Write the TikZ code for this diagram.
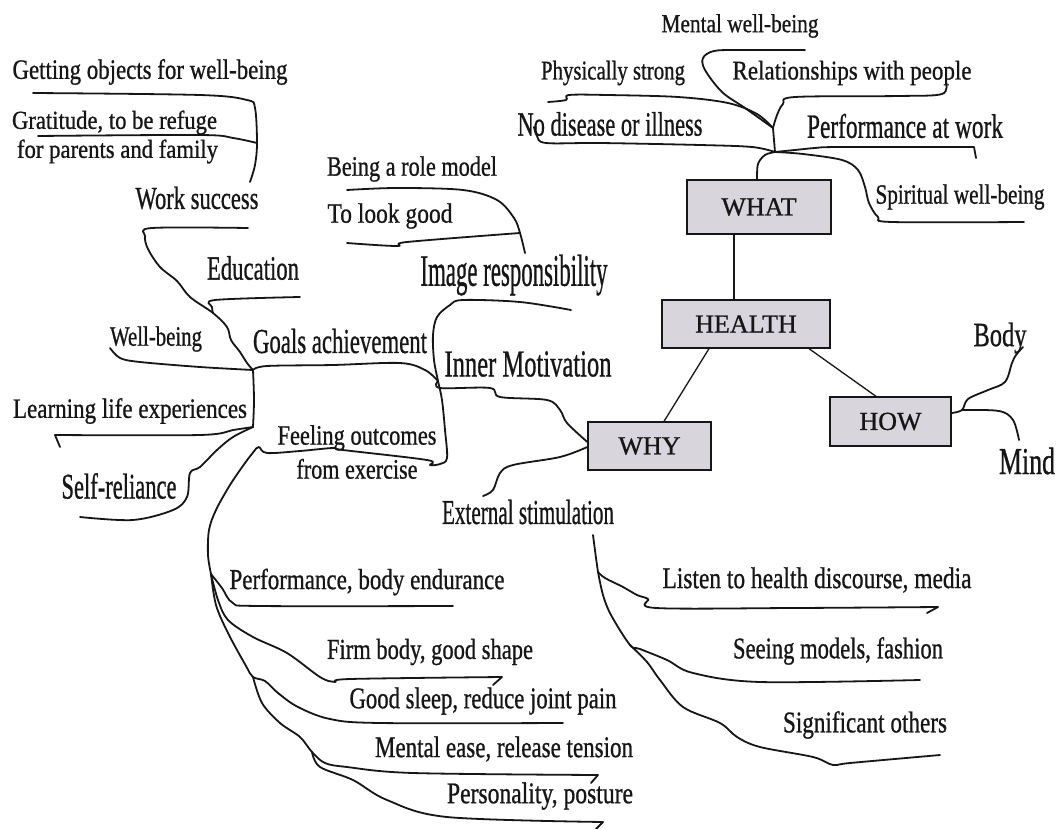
\documentclass[tikz,border=0pt]{standalone}
\usepackage{fontspec}
\usepackage{graphicx}
\setmainfont{Liberation Serif}[FakeBold=0.9]
% squeeze a label horizontally to a given width, keeping its height
\newcommand{\fitw}[2]{\resizebox{#1pt}{\height}{#2}}
\definecolor{boxgray}{RGB}{216,213,221}
\definecolor{ink}{RGB}{22,22,22}
\tikzset{
  lbl/.style={inner sep=0pt, text=ink, font=\fontsize{#1}{#1}\selectfont},
  qbox/.style={draw=ink, line width=1.3pt, fill=boxgray, inner sep=0pt,
    font=\fontsize{26}{26}\selectfont, text=ink},
  link/.style={draw=ink, line width=1.3pt},
  wire/.style={draw=ink, line width=1.8pt, line cap=round, line join=round},
  sm/.style={smooth, tension=0.55}
}
\begin{document}
\begin{tikzpicture}[x=1pt, y=-1pt]
\useasboundingbox[fill=white] (0,0) rectangle (1059,829);

% ---------- central boxes ----------
\node[qbox, minimum width=144pt, minimum height=54pt] (what)   at (759,207)   {WHAT};
\node[qbox, minimum width=168pt, minimum height=48pt] (health) at (746,324)   {HEALTH};
\node[qbox, minimum width=123pt, minimum height=48pt] (why)    at (649.5,446) {WHY};
\node[qbox, minimum width=121pt, minimum height=49pt] (how)    at (890.5,421.5) {HOW};

\draw[link] ([xshift=-25pt]what.south) -- ([xshift=-12pt]health.north);
\draw[link] ([xshift=-37pt]health.south) -- ([xshift=14.5pt]why.north);
\draw[link] ([xshift=63pt]health.south) -- ([xshift=-14.5pt]how.north);

% ---------- labels ----------
\node[lbl=26] (mentalwb)  at (740,26)  {\fitw{157}{Mental well-being}};
\node[lbl=27] (physical)  at (613,73)  {\fitw{144}{Physically strong}};
\node[lbl=27] (relations) at (852,73)  {\fitw{239}{Relationships with people}};
\node[lbl=34] (nodisease) at (610,124) {\fitw{185}{No disease or illness}};
\node[lbl=34] (perfwork)  at (905,126) {\fitw{196}{Performance at work}};
\node[lbl=28] (spiritual) at (960,197) {\fitw{169}{Spiritual well-being}};
\node[lbl=34] (body)      at (1000,338) {\fitw{53}{Body}};
\node[lbl=38] (mind)      at (1027,461) {\fitw{56}{Mind}};

\node[lbl=28] (getting)   at (150,72)  {\fitw{275}{Getting objects for well-being}};
\node[inner sep=0pt, text=ink, align=left, font=\fontsize{26}{29}\selectfont] (gratitude) at (115,137)
  {\fitw{205}{Gratitude, to be refuge}\\\hspace*{5pt}\fitw{201}{for parents and family}};
\node[lbl=32] (work)      at (197,198) {\fitw{123}{Work success}};
\node[lbl=28] (role)      at (412,169) {\fitw{170}{Being a role model}};
\node[lbl=28] (look)      at (390,216) {\fitw{125}{To look good}};
\node[lbl=45] (image)     at (514,275) {\fitw{187}{Image responsibility}};
\node[lbl=34] (education) at (253,268) {\fitw{92}{Education}};
\node[lbl=28] (wellbeing) at (156,339) {\fitw{92}{Well-being}};
\node[lbl=35] (goals)     at (340,341) {\fitw{174}{Goals achievement}};
\node[lbl=38] (inner)     at (528,364) {\fitw{167}{Inner Motivation}};
\node[lbl=28] (learning)  at (130,411) {\fitw{234}{Learning life experiences}};
\node[inner sep=0pt, text=ink, align=center, font=\fontsize{28}{34}\selectfont] (feeling) at (357,452)
  {\fitw{159}{Feeling outcomes}\\\fitw{121}{from exercise}};
\node[lbl=36] (selfrel)   at (119,486) {\fitw{115}{Self-reliance}};
\node[lbl=35] (external)  at (528,512) {\fitw{172}{External stimulation}};

\node[lbl=29] (endur)     at (367,582) {\fitw{275}{Performance, body endurance}};
\node[lbl=29] (firm)      at (430,652) {\fitw{206}{Firm body, good shape}};
\node[lbl=30] (sleep)     at (483,701) {\fitw{267}{Good sleep, reduce joint pain}};
\node[lbl=30] (ease)      at (504,749) {\fitw{258}{Mental ease, release tension}};
\node[lbl=30] (posture)   at (540,796) {\fitw{186}{Personality, posture}};

\node[lbl=30] (listen)    at (817,580) {\fitw{309}{Listen to health discourse, media}};
\node[lbl=30] (seeing)    at (838,651) {\fitw{210}{Seeing models, fashion}};
\node[lbl=30] (others)    at (865,725) {\fitw{164}{Significant others}};

% ---------- branch points ----------
\coordinate (hubWhat) at (775,152);
\coordinate (hubTop)  at (773,128);
\coordinate (hubHow)  at (962,410);
\coordinate (hubMot)  at (438,381);
\coordinate (hubGoals) at (253,370);
\coordinate (hubEdu)  at (213,313);
\coordinate (hubLearn) at (253,427);
\coordinate (hubWork) at (257,143);
\coordinate (hubImg)  at (520,233);
\coordinate (hubFeel) at (255,450);
\coordinate (hubFan)  at (211,574);
\coordinate (hubSleep) at (253,677);
\coordinate (hubMent) at (312,752);
\coordinate (hubExt)  at (598,572);
\coordinate (hubSig)  at (630,645);

% ---------- WHAT branches ----------
\draw[wire] plot[sm] coordinates {([xshift=-2pt]what.north) (758,164) (765,155) (hubWhat)};
\draw[wire] plot[sm] coordinates {(hubTop) (774,140) (hubWhat)};
\draw[wire] plot[sm] coordinates {(hubWhat) (752,147) (700,145) (600,143) (546,143) (537,136) (534,127)};
\draw[wire] plot[sm] coordinates {(548,102) (566,100) (569,95) (607,95) (678,97) (728,103) (757,114) (hubTop)};
\draw[wire] plot[sm] coordinates {(805,50) (740,50) (714,51) (703,58) (705,70) (722,92) (745,108) (hubTop)};
\draw[wire] plot[sm] coordinates {(946,82) (942,94) (900,96) (795,97) (783,104) (777,115) (hubTop)};
\draw[wire] plot[sm] coordinates {(hubWhat) (795,150) (815,148) (840,147) (974,147)} -- (976,158);
\draw[wire] plot[sm] coordinates {(hubWhat) (803,154) (842,160) (858,170) (865,187) (869,203) (878,217) (892,222) (1024,222)};

% ---------- HOW branches ----------
\draw[wire] plot[sm] coordinates {([yshift=8.5pt]how.east) (hubHow) (968,399) (988,390) (1005,382) (1012,363) (1016,355) (1023,347)};
\draw[wire] plot[sm] coordinates {(hubHow) (999,411) (1013,420) (1019,440)};

% ---------- WHY branches ----------
\draw[wire] plot[sm] coordinates {([yshift=4pt]why.west) (567,423) (560,410) (547,400) (500,397) (490,388) (440,388) (hubMot)};
\draw[wire] plot[sm] coordinates {([yshift=-1pt]why.west) (560,457) (513,465) (500,473) (493,490) (483,496)};

% spine beside Inner Motivation
\draw[wire] plot[sm] coordinates {(571,310) (520,302) (463,300) (450,305) (437,317) (433,335) (434,360) (hubMot) (442,400) (445,430) (447,458) (440,464) (430,465) (427,460) (343,450) (333,448) (300,451) (267,453) (259,447) (hubFeel)};
\draw[wire] plot[sm] coordinates {(hubGoals) (267,366) (333,365) (400,363) (425,370) (hubMot)};

% image responsibility
\draw[wire] plot[sm] coordinates {(347,190) (397,188) (463,190) (497,200) (514,218) (hubImg) (525,253)};
\draw[wire] plot[sm] coordinates {(347,243) (397,246) (407,242) (hubImg)};

% ---------- goals cluster ----------
\draw[wire] plot[sm] coordinates {(33,93) (200,95) (247,100) (255,108) (hubWork) (255,165) (250,182)};
\draw[wire] plot[sm] coordinates {(38,136) (200,135) (233,138) (hubWork)};
\draw[wire] plot[sm] coordinates {(248,228) (152,228) (145,236) (148,249) (160,267) (177,281) (190,297) (hubEdu) (227,327) (231,340) (240,352) (247,363) (hubGoals)};
\draw[wire] plot[sm] coordinates {(300,297) (215,300) (212,307) (hubEdu)};
\draw[wire] plot[sm] coordinates {(110,348) (120,358) (140,362) (200,367) (hubGoals)};
\draw[wire] plot[sm] coordinates {(hubGoals) (254,400) (hubLearn)};
\draw[wire] (60,447) -- (55,435) -- plot[sm] coordinates {(55,435) (200,435) (233,430) (hubLearn)};
\draw[wire] plot[sm] coordinates {(80,517) (133,520) (173,510) (187,497) (190,473) (200,467) (217,450) (233,437) (hubLearn)};

% ---------- exercise outcomes ----------
\draw[wire] plot[sm] coordinates {(hubFeel) (245,463) (230,485) (216,510) (209,530) (208,555) (hubFan)};
\draw[wire] plot[sm] coordinates {(hubFan) (222,588) (233,603) (260,606) (453,606)};
\draw[wire] plot[sm] coordinates {(hubFan) (218,600) (228,620) (253,637) (287,653) (320,677) (335,682) (350,679) (502,677)} -- (493,685);
\draw[wire] plot[sm] coordinates {(hubFan) (216,605) (228,633) (246,666) (hubSleep) (265,681) (278,693) (298,707) (330,719) (380,723) (563,723)};
\draw[wire] plot[sm] coordinates {(hubSleep) (262,703) (280,723) (300,737) (hubMent) (325,763) (347,767) (413,773) (598,775)} -- (591,783);
\draw[wire] plot[sm] coordinates {(hubMent) (320,767) (353,780) (387,800) (447,817) (603,822)} -- (596,829);

% ---------- external stimulation ----------
\draw[wire] plot[sm] coordinates {(593,535) (596,558) (hubExt)};
\draw[wire] plot[sm] coordinates {(hubExt) (605,578) (623,587) (637,595) (648,599) (656,608) (793,608) (938,607)} -- (927,613);
\draw[wire] plot[sm] coordinates {(hubExt) (603,595) (611,615) (hubSig) (640,649) (667,660) (693,673) (760,682) (920,680)};
\draw[wire] plot[sm] coordinates {(hubSig) (647,662) (660,680) (683,707) (720,723) (737,737) (760,747) (813,757) (833,765) (850,763) (940,755)};
\end{tikzpicture}
\end{document}
